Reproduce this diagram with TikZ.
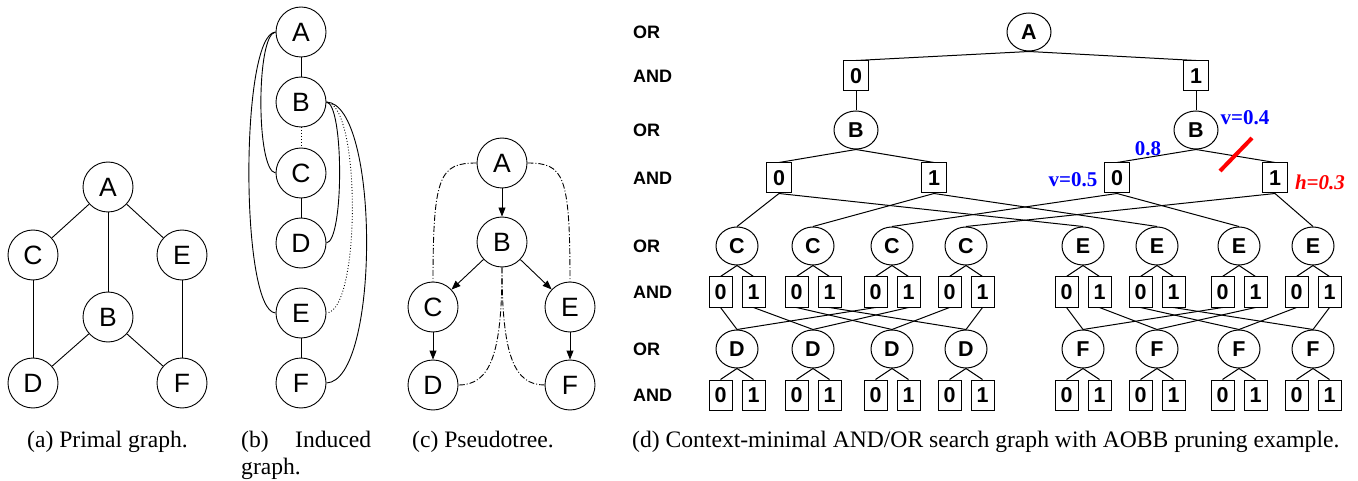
\documentclass[tikz,border=0pt]{standalone}
\usepackage{fontspec}
\setmainfont{Liberation Serif}
\newfontfamily\arialf{Liberation Sans}
\usetikzlibrary{shapes.geometric,arrows.meta}
\begin{document}
\begin{tikzpicture}[x=1pt,y=-1pt,
  pn/.style={circle,draw,line width=0.9pt,minimum size=50pt,inner sep=0pt,font=\arialf\fontsize{26.5}{26.5}\selectfont},
  orn/.style={ellipse,draw,line width=1pt,minimum width=42pt,minimum height=38pt,inner sep=0pt,font=\arialf\bfseries\fontsize{21.5}{21.5}\selectfont},
  andn/.style={rectangle,draw,line width=1pt,minimum width=23pt,minimum height=30pt,inner sep=0pt,font=\arialf\bfseries\fontsize{21.5}{21.5}\selectfont},
  lvl/.style={anchor=west,inner sep=0pt,font=\arialf\bfseries\fontsize{18}{18}\selectfont},
  dedge/.style={line width=1pt},
  pedge/.style={line width=0.9pt},
  ddash/.style={line width=0.9pt,dash pattern=on 6pt off 2pt on 1pt off 2pt},
  parr/.style={line width=0.9pt,-{Triangle[length=9pt,width=7pt]}},
  captext/.style={anchor=base west,inner sep=0pt,font=\fontsize{23.6}{27}\selectfont},
  vlab/.style={inner sep=0pt,text=blue,font=\bfseries\fontsize{21}{21}\selectfont},
  hlab/.style={inner sep=0pt,text=red,font=\bfseries\itshape\fontsize{21}{21}\selectfont}]
\useasboundingbox (0,0) rectangle (1358,481);

% ---------- (a) primal graph
\node[pn] (aA) at (108,187) {A};
\node[pn] (aC) at (33,255) {C};
\node[pn] (aE) at (182,255) {E};
\node[pn] (aB) at (108,317) {B};
\node[pn] (aD) at (33,383) {D};
\node[pn] (aF) at (182,383) {F};
\draw[pedge] (aA) -- (aC);
\draw[pedge] (aA) -- (aE);
\draw[pedge] (aA) -- (aB);
\draw[pedge] (aC) -- (aD);
\draw[pedge] (aE) -- (aF);
\draw[pedge] (aB) -- (aD);
\draw[pedge] (aB) -- (aF);

% ---------- (b) induced graph
\node[pn] (bA) at (301,32) {A};
\node[pn] (bB) at (301,102) {B};
\node[pn] (bC) at (301,173) {C};
\node[pn] (bD) at (301,243) {D};
\node[pn] (bE) at (301,313) {E};
\node[pn] (bF) at (301,383) {F};
\draw[pedge] (bA) -- (bB);
\draw[pedge,dotted] (bB) -- (bC);
\draw[pedge] (bC) -- (bD);
\draw[pedge] (bE) -- (bF);
\draw[pedge] (bA.west) .. controls (256,34) and (256,171) .. (bC.west);
\draw[pedge] (bA.west) .. controls (240,34) and (240,311) .. (bE.west);
\draw[pedge] (bB.east) .. controls (344,104) and (344,241) .. (bD.east);
\draw[pedge,dotted] (bB.east) .. controls (361,104) and (361,311) .. (bE.east);
\draw[pedge] (bB.east) .. controls (380,104) and (380,381) .. (bF.east);

% ---------- (c) pseudotree
\node[pn] (cA) at (502,163) {A};
\node[pn] (cB) at (502,242) {B};
\node[pn] (cC) at (433,307) {C};
\node[pn] (cE) at (570,307) {E};
\node[pn] (cD) at (433,385) {D};
\node[pn] (cF) at (570,385) {F};
\draw[parr] (cA) -- (cB);
\draw[parr] (cB) -- (cC);
\draw[parr] (cB) -- (cE);
\draw[parr] (cC) -- (cD);
\draw[parr] (cE) -- (cF);
\draw[ddash] (cA.west) .. controls (440,163) and (433,175) .. (cC.north);
\draw[ddash] (cA.east) .. controls (564,163) and (570,175) .. (cE.north);
\draw[ddash] (cB.south) .. controls (502,355) and (490,385) .. (cD.east);
\draw[ddash] (cB.south) .. controls (502,355) and (514,385) .. (cF.west);

% ---------- (d) AND/OR search graph
\node[lvl] (l1) at (633,32) {OR};
\node[lvl] (l2) at (633,76) {AND};
\node[lvl] (l3) at (633,130) {OR};
\node[lvl] (l4) at (633,178) {AND};
\node[lvl] (l5) at (633,246) {OR};
\node[lvl] (l6) at (633,292) {AND};
\node[lvl] (l7) at (633,349) {OR};
\node[lvl] (l8) at (633,395) {AND};

\node[orn,minimum width=44pt] (dA) at (1029,32) {A};
\node[andn,minimum width=25pt] (a0) at (856,76) {0};
\node[andn,minimum width=25pt] (a1) at (1196,76) {1};
\node[orn,minimum width=44pt] (B0) at (856,130) {B};
\node[orn,minimum width=44pt] (B1) at (1196,130) {B};
\node[andn,minimum width=25pt] (b00) at (779,178) {0};
\node[andn,minimum width=25pt] (b01) at (934,178) {1};
\node[andn,minimum width=25pt] (b10) at (1117,178) {0};
\node[andn,minimum width=25pt] (b11) at (1275,178) {1};
\draw[dedge] (dA.south) -- (a0.north);
\draw[dedge] (dA.south) -- (a1.north);
\draw[dedge] (a0.south) -- (B0.north);
\draw[dedge] (a1.south) -- (B1.north);
\draw[dedge] (B0.south) -- (b00.north);
\draw[dedge] (B0.south) -- (b01.north);
\draw[dedge] (B1.south) -- (b10.north);
\draw[dedge] (B1.south) -- (b11.north);

\foreach \i/\x/\y in {1/737/1083,2/813/1157,3/892/1239,4/966/1313} {
  \node[orn] (C\i) at (\x,246) {C};
  \node[andn] (C\i0) at (\x-16.5,292) {0};
  \node[andn] (C\i1) at (\x+16.5,292) {1};
  \node[orn] (D\i) at (\x,349) {D};
  \node[andn] (D\i0) at (\x-16.5,395) {0};
  \node[andn] (D\i1) at (\x+16.5,395) {1};
  \node[orn] (E\i) at (\y,246) {E};
  \node[andn] (E\i0) at (\y-16.5,292) {0};
  \node[andn] (E\i1) at (\y+16.5,292) {1};
  \node[orn] (F\i) at (\y,349) {F};
  \node[andn] (F\i0) at (\y-16.5,395) {0};
  \node[andn] (F\i1) at (\y+16.5,395) {1};
  \foreach \n in {C,D,E,F} {
    \draw[dedge] (\n\i.south) -- (\n\i0.north);
    \draw[dedge] (\n\i.south) -- (\n\i1.north);
  }
}
\foreach \s/\t in {b00/1,b01/2,b10/3,b11/4} {
  \draw[dedge] (\s.south) -- (C\t.north);
  \draw[dedge] (\s.south) -- (E\t.north);
}
\foreach \s/\t in {10/1,11/2,20/3,21/4,30/1,31/2,40/3,41/4} {
  \draw[dedge] (C\s.south) -- (D\t.north);
  \draw[dedge] (E\s.south) -- (F\t.north);
}

\node[vlab] (v04) at (1245,118) {v=0.4};
\node[vlab] (v08) at (1148,149) {0.8};
\node[vlab] (v05) at (1073,180) {v=0.5};
\node[hlab] (h03) at (1320,182) {h=0.3};
\draw[red,line width=4pt] (1220,171) -- (1252,138);

% ---------- captions
\node[captext] (capa) at (27,447) {(a) Primal graph.};
\node[captext] (capb) at (241,447) {\hbox to 130pt{(b)\hfill Induced}};
\node[captext] (capb2) at (241,474) {graph.};
\node[captext] (capc) at (412,447) {(c) Pseudotree.};
\node[captext] (capd) at (632,447) {(d) Context-minimal AND/OR search graph with AOBB pruning example.};
\end{tikzpicture}
\end{document}
